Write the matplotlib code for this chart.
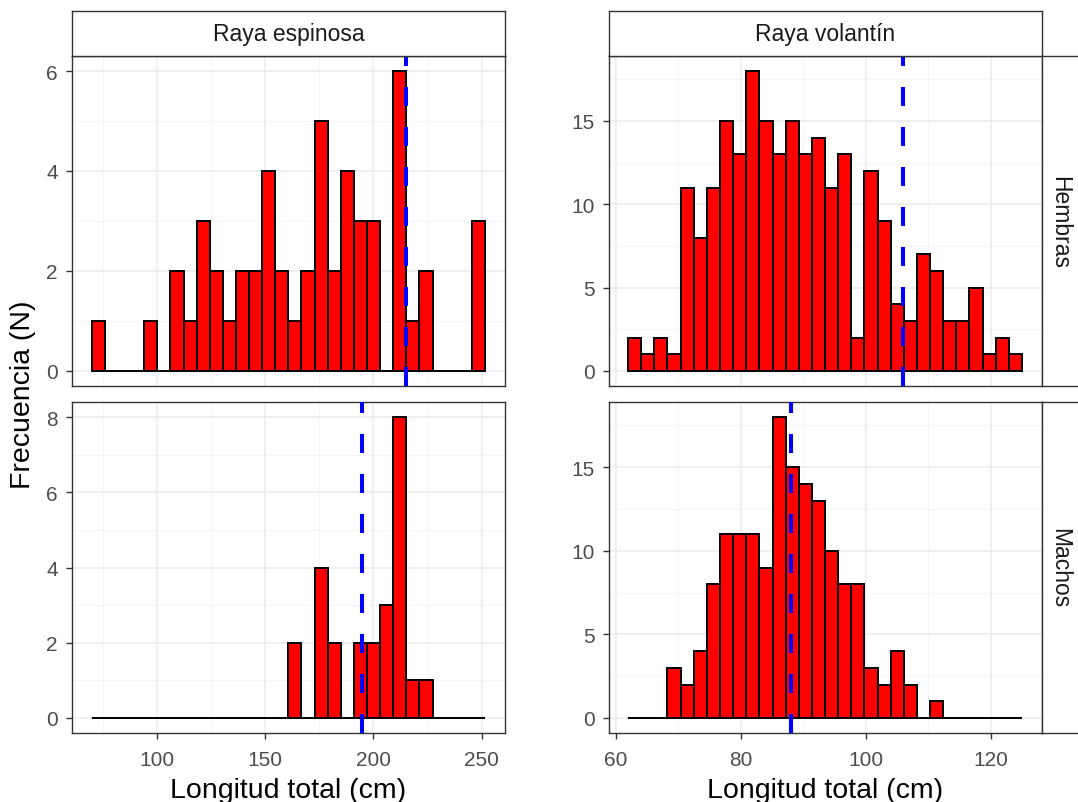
import numpy as np
import matplotlib.pyplot as plt
from matplotlib.ticker import MultipleLocator

plt.rcParams['font.family'] = ['Liberation Sans', 'DejaVu Sans']
plt.rcParams['lines.scale_dashes'] = False

# datos
especies = ["Raya espinosa", "Raya volantín"]
sexos = ["Hembras", "Machos"]

# raya espinosa: 30 clases
esp_inicio = 69.75
esp_ancho = 6.06
esp_hembras = [1, 0, 0, 0, 1, 0, 2, 1, 3, 2, 1, 2, 2, 4, 2, 1, 2, 5, 2, 4, 3, 3, 0, 6, 1, 2, 0, 0, 0, 3]
esp_machos = [0, 0, 0, 0, 0, 0, 0, 0, 0, 0, 0, 0, 0, 0, 0, 2, 0, 4, 2, 0, 2, 2, 3, 8, 1, 1, 0, 0, 0, 0]
esp_media = [215.1, 194.8]

# raya volantin: 30 clases
vol_inicio = 62.0
vol_ancho = 2.1
vol_hembras = [2, 1, 2, 1, 11, 8, 11, 15, 13, 18, 15, 13, 15, 13, 14, 11, 13, 2, 12, 9, 4, 3, 7, 6, 3, 3, 5, 1, 2, 1]
vol_machos = [0, 0, 0, 3, 2, 4, 8, 11, 11, 11, 9, 18, 15, 14, 13, 10, 8, 8, 3, 2, 4, 2, 0, 1, 0, 0, 0, 0, 0, 0]
vol_media = [106.0, 88.1]

W, H = 1078, 803
fig = plt.figure(figsize=(W / 100, H / 100), dpi=100)


def caja(x0, y0, x1, y1):
    return [x0 / W, 1 - y1 / H, (x1 - x0) / W, (y1 - y0) / H]


borde = '#333333'


def panel(ax, inicio, ancho, cuentas, media, xlim, ylim, xmaj, ymaj, con_x):
    bordes = inicio + ancho * np.arange(len(cuentas))
    ax.bar(bordes, cuentas, width=ancho, align='edge', color='red',
           edgecolor='black', linewidth=1.4, zorder=2)
    ax.axvline(media, color='blue', linewidth=2.9, linestyle=(0, (13.7, 15.1)), zorder=3)
    ax.set_xlim(xlim)
    ax.set_ylim(ylim)
    ax.xaxis.set_major_locator(MultipleLocator(xmaj))
    ax.xaxis.set_minor_locator(MultipleLocator(xmaj / 2))
    ax.yaxis.set_major_locator(MultipleLocator(ymaj))
    ax.yaxis.set_minor_locator(MultipleLocator(ymaj / 2))
    ax.grid(which='major', color='#EBEBEB', linewidth=1.1, zorder=0)
    ax.grid(which='minor', color='#F3F3F3', linewidth=0.6, zorder=0)
    ax.set_axisbelow(True)
    for s in ax.spines.values():
        s.set_color(borde)
        s.set_linewidth(1.0)
    ax.tick_params(which='minor', length=0)
    ax.tick_params(which='major', length=4, width=1.0, color=borde,
                   labelsize=15, labelcolor='#4D4D4D')
    ax.tick_params(axis='x', which='major', pad=8.5)
    ax.tick_params(axis='y', which='major', pad=6.1)
    if not con_x:
        ax.tick_params(axis='x', which='major', length=0, labelbottom=False)


def tira(rect, texto):
    a = fig.add_axes(rect)
    a.set_xticks([])
    a.set_yticks([])
    a.set_facecolor('white')
    for s in a.spines.values():
        s.set_color(borde)
        s.set_linewidth(1.0)
    if texto:
        a.text(0.5, 0.5, texto, ha='center', va='center',
               fontsize=16.5, color='#1A1A1A', transform=a.transAxes)
    return a


# izquierda: raya espinosa
ax1 = fig.add_axes(caja(72, 57, 505, 387))
panel(ax1, esp_inicio, esp_ancho, esp_hembras, esp_media[0],
      (60.6, 260.8), (-0.3, 6.3), 50, 2, False)
ax2 = fig.add_axes(caja(72, 403, 505, 734))
panel(ax2, esp_inicio, esp_ancho, esp_machos, esp_media[1],
      (60.6, 260.8), (-0.4, 8.4), 50, 2, True)
tira(caja(72, 12, 505, 57), especies[0])

# derecha: raya volantin
ax3 = fig.add_axes(caja(609, 57, 1042, 387))
panel(ax3, vol_inicio, vol_ancho, vol_hembras, vol_media[0],
      (58.95, 128.2), (-0.9, 18.9), 20, 5, False)
ax4 = fig.add_axes(caja(609, 403, 1042, 734))
panel(ax4, vol_inicio, vol_ancho, vol_machos, vol_media[1],
      (58.95, 128.2), (-0.9, 18.9), 20, 5, True)
tira(caja(609, 12, 1042, 57), especies[1])
tira(caja(1042, 57, 1087, 387), None)
tira(caja(1042, 403, 1087, 734), None)
fig.text(1060 / W, 1 - 222 / H, sexos[0], rotation=-90, ha='center', va='center',
         fontsize=16.5, color='#1A1A1A')
fig.text(1060 / W, 1 - 568 / H, sexos[1], rotation=-90, ha='center', va='center',
         fontsize=16.5, color='#1A1A1A')

# titulos de ejes
fig.text(288 / W, 1 - 791 / H, "Longitud total (cm)", ha='center', va='center', fontsize=20.5)
fig.text(825 / W, 1 - 791 / H, "Longitud total (cm)", ha='center', va='center', fontsize=20.5)
fig.text(23 / W, 1 - 395 / H, "Frecuencia (N)", ha='center', va='center',
         rotation=90, fontsize=20.5)

fig.savefig("out.png", dpi=100)
